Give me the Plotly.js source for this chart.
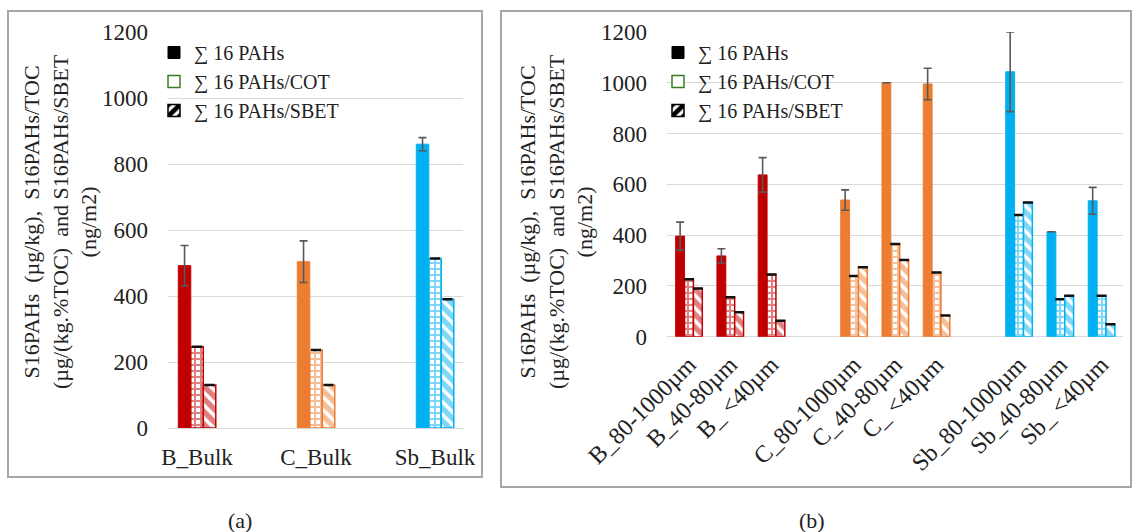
<!DOCTYPE html>
<html>
<head>
<meta charset="utf-8">
<script src="https://cdn.plot.ly/plotly-3.0.1.min.js"></script>
<style>html,body{margin:0;padding:0;background:#fff;}#chart{width:1133px;height:532px;}</style>
</head>
<body>
<div id="chart"></div>
<script>
// ---------- data ----------
const seriesNames = ["∑ 16 PAHs", "∑ 16 PAHs/COT", "∑ 16 PAHs/SBET"];

// panel (a)
const catsA = ["B_Bulk", "C_Bulk", "Sb_Bulk"];
const pahsA = [492, 504, 860];
const pahsErrA = [61, 63, 20];
const cotA = [246, 236, 514];
const sbetA = [130, 130, 390];
const colorsA = ["#C00000", "#ED7D31", "#00B0F0"];

// panel (b)
const catsB = ["B_80-1000µm", "B_40-80µm", "B_ <40µm", " ",
               "C_80-1000µm", "C_40-80µm", "C_ <40µm", "  ",
               "Sb_80-1000µm", "Sb_40-80µm", "Sb_ <40µm"];
const pahsB = [396, 318, 637, null, 538, 1000, 995, null, 1043, 413, 535];
const pahsErrB = [55, 28, 68, null, 40, 0, 62, null, 157, 0, 53];
const cotB = [226, 155, 245, null, 239, 365, 253, null, 479, 147, 161];
const sbetB = [190, 96, 63, null, 273, 302, 83, null, 528, 161, 49];
const colorsB = ["#C00000", "#C00000", "#C00000", "#fff",
                 "#ED7D31", "#ED7D31", "#ED7D31", "#fff",
                 "#00B0F0", "#00B0F0", "#00B0F0"];

const yTitle = "S16PAHs  (µg/kg),  S16PAHs/TOC<br>(µg/(kg.%TOC)  and S16PAHs/SBET<br>(ng/m2)";

// ---------- styling ----------
const FONT = "Liberation Serif";
const W = 1133, H = 532;
const px = v => v / W, py = v => 1 - v / H;

function makeTraces(cats, pahs, err, cot, sbet, colors, xa, ya, bw) {
  const offs = [-1.5 * bw, -0.5 * bw, 0.5 * bw];
  return [
    {type: "bar", x: cats, y: pahs, xaxis: xa, yaxis: ya, width: bw, offset: offs[0],
     marker: {color: colors, line: {color: colors, width: 1}}, showlegend: false,
     error_y: {type: "data", array: err, visible: true, color: "#595959", thickness: 1.6, width: 4}},
    {type: "bar", x: cats, y: cot, xaxis: xa, yaxis: ya, width: bw, offset: offs[1],
     marker: {color: "#fff", line: {color: colors, width: 1.5},
              pattern: {shape: "+", fgcolor: colors, bgcolor: "#fff", size: 6, solidity: 0.55, fillmode: "overlay"}},
     showlegend: false,
     error_y: {type: "constant", value: 0, visible: true, color: "#111", thickness: 2.5, width: 5}},
    {type: "bar", x: cats, y: sbet, xaxis: xa, yaxis: ya, width: bw, offset: offs[2],
     marker: {color: "#fff", line: {color: colors, width: 1.5},
              pattern: {shape: "\\", fgcolor: colors, bgcolor: "#fff", size: 9, solidity: 0.6, fillmode: "overlay"}},
     showlegend: false,
     error_y: {type: "constant", value: 0, visible: true, color: "#111", thickness: 2.5, width: 5}}
  ];
}

// legend-only proxies (no visible marks: y is null)
function legendTraces(legendId, cats, xa, ya) {
  return [
    {type: "bar", x: [cats[0]], y: [null], name: seriesNames[0], legend: legendId, xaxis: xa, yaxis: ya,
     showlegend: true, marker: {color: "#000", line: {color: "#000", width: 1}}},
    {type: "bar", x: [cats[0]], y: [null], name: seriesNames[1], legend: legendId, xaxis: xa, yaxis: ya,
     showlegend: true, marker: {color: "#fff", line: {color: "#3A7D22", width: 1.5}}},
    {type: "bar", x: [cats[0]], y: [null], name: seriesNames[2], legend: legendId, xaxis: xa, yaxis: ya,
     showlegend: true, marker: {color: "#fff", line: {color: "#000", width: 1.5},
              pattern: {shape: "/", fgcolor: "#000", bgcolor: "#fff", size: 10, solidity: 0.6}}}
  ];
}

const data = [].concat(
  makeTraces(catsA, pahsA, pahsErrA, cotA, sbetA, colorsA, "x", "y", 0.105),
  makeTraces(catsB, pahsB, pahsErrB, cotB, sbetB, colorsB, "x2", "y2", 0.215),
  legendTraces("legend", catsA, "x", "y"),
  legendTraces("legend2", catsB, "x2", "y2")
);

const yaxBase = {
  range: [0, 1200], dtick: 200, tick0: 0, showgrid: true, gridcolor: "#D9D9D9", gridwidth: 1,
  zeroline: true, zerolinecolor: "#D9D9D9", zerolinewidth: 1, showline: false, ticks: "",
  ticklabelstandoff: 19, tickfont: {family: FONT, size: 23, color: "#222"}, fixedrange: true
};

const legFont = {family: FONT, size: 20, color: "#222"};

const layout = {
  width: W, height: H,
  margin: {l: 0, r: 0, t: 0, b: 0},
  paper_bgcolor: "#fff", plot_bgcolor: "rgba(0,0,0,0)",
  barmode: "overlay",
  showlegend: true,
  font: {family: FONT, size: 22, color: "#222"},
  xaxis: {domain: [px(168), px(463)], range: [-0.244, 2.235], type: "category", anchor: "y",
          showgrid: false, showline: false, ticks: "", ticklabelstandoff: 13,
          tickfont: {family: FONT, size: 23, color: "#222"}},
  yaxis: Object.assign({}, yaxBase, {domain: [py(428), py(32)], anchor: "x"}),
  xaxis2: {domain: [px(667), px(1123)], range: [-0.533, 10.52], type: "category", anchor: "y2",
           showgrid: false, showline: false, ticks: "", tickangle: -45, ticklabelstandoff: 8,
           tickfont: {family: FONT, size: 24, color: "#222"}},
  yaxis2: Object.assign({}, yaxBase, {domain: [py(336.7), py(31.9)], anchor: "x2"}),
  legend: {x: px(154), y: py(33), xanchor: "left", yanchor: "top", bgcolor: "rgba(0,0,0,0)",
           font: legFont, itemwidth: 30},
  legend2: {x: px(658), y: py(33), xanchor: "left", yanchor: "top", bgcolor: "rgba(0,0,0,0)",
            font: legFont, itemwidth: 30},
  shapes: [
    {type: "rect", xref: "paper", yref: "paper", x0: px(8), x1: px(482), y0: py(477), y1: py(11),
     line: {color: "#A6A6A6", width: 2}, fillcolor: "rgba(0,0,0,0)"},
    {type: "rect", xref: "paper", yref: "paper", x0: px(501), x1: px(1131), y0: py(487), y1: py(11),
     line: {color: "#A6A6A6", width: 2}, fillcolor: "rgba(0,0,0,0)"}
  ],
  annotations: [
    {text: yTitle, xref: "paper", yref: "paper", x: px(60), y: py(222), textangle: -90,
     showarrow: false, xanchor: "center", yanchor: "middle", font: {family: FONT, size: 22, color: "#222"}},
    {text: yTitle, xref: "paper", yref: "paper", x: px(556), y: py(222), textangle: -90,
     showarrow: false, xanchor: "center", yanchor: "middle", font: {family: FONT, size: 22, color: "#222"}},
    {text: "(a)", xref: "paper", yref: "paper", x: px(240), y: py(520), showarrow: false,
     xanchor: "center", yanchor: "middle", font: {family: FONT, size: 22, color: "#222"}},
    {text: "(b)", xref: "paper", yref: "paper", x: px(812), y: py(520), showarrow: false,
     xanchor: "center", yanchor: "middle", font: {family: FONT, size: 22, color: "#222"}}
  ]
};

Plotly.newPlot("chart", data, layout, {displayModeBar: false, staticPlot: true});
</script>
</body>
</html>
